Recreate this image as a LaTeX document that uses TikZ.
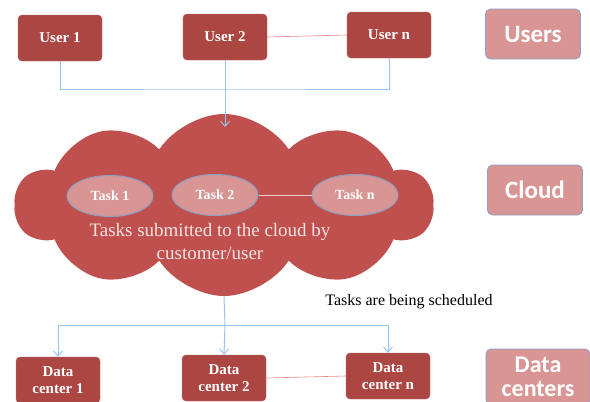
\documentclass[tikz,border=0pt]{standalone}
\usepackage{fontspec}
\setmainfont{Liberation Serif}
\newfontfamily\labelfont{Carlito}
\usetikzlibrary{arrows,arrows.meta,shapes,positioning}
\definecolor{boxred}{RGB}{172, 70, 67}
\definecolor{cloudred}{RGB}{192, 80, 77}
\definecolor{pinkfill}{RGB}{217, 149, 148}
\definecolor{slate}{RGB}{140, 160, 195}
\definecolor{wire}{RGB}{150, 195, 240}
\definecolor{softpink}{RGB}{245, 228, 227}
\definecolor{peer}{RGB}{225, 135, 132}

\tikzset{
  unit/.style={draw=boxred!85!white, fill=boxred, rounded corners=4pt,
    minimum width=84pt, minimum height=46pt, text=white, align=center,
    font=\bfseries\fontsize{15}{17}\selectfont},
  tag/.style={draw=slate, fill=pinkfill, rounded corners=5pt, line width=0.8pt,
    minimum width=95pt, minimum height=50pt, text=white, align=center,
    font=\labelfont\bfseries\fontsize{25}{27}\selectfont},
  task/.style={ellipse, draw=slate, fill=pinkfill, line width=1pt,
    minimum width=86pt, minimum height=41pt, text=white,
    font=\bfseries\fontsize{14}{15}\selectfont},
  wire/.style={draw=wire, line width=1pt},
  feed/.style={wire, -{Straight Barb[length=5pt,width=9pt]}},
  peer/.style={draw=peer, line width=0.6pt}
}

\begin{document}
\begin{tikzpicture}[x=1pt, y=-1pt]
    \useasboundingbox (0,0) rectangle (590,402);

    % Users
    \node[unit] (u1) at (60,38) {User 1};
    \node[unit] (u2) at (225,37) {User 2};
    \node[unit] (un) at (389,35) {User n};
    \node[tag] (users) at (533,34) {Users};
    \draw[peer] (u2.east) -- (un.west);

    % Cloud with the tasks
    \node[cloud, cloud puffs=10, cloud puff arc=115, fill=cloudred,
          minimum width=418pt, minimum height=182pt] (cl) at (224,205) {};
    \node[task] (t1) at (110,196) {Task 1};
    \node[task] (t2) at (215,195) {Task 2};
    \node[task] (tn) at (355,195) {Task n};
    \draw[draw=softpink!85!cloudred, line width=0.6pt] (t2.east) -- (tn.west);
    \node[text=softpink, align=center, font=\fontsize{19}{23}\selectfont]
          (note) at (210,241) {Tasks submitted to the cloud by\\customer/user};
    \node[tag] (cloudtag) at (535,190) {Cloud};

    % Data centers
    \node[unit] (d1) at (58,380) {Data\\center 1};
    \node[unit] (d2) at (224,378) {Data\\center 2};
    \node[unit] (dn) at (388,376) {Data\\center n};
    \node[tag, minimum width=104pt, minimum height=56pt,
          font=\labelfont\bfseries\fontsize{24}{24}\selectfont] (dctag) at (538,377) {Data\\centers};
    \draw[peer] (d2.east) -- (dn.west);
    \node[font=\fontsize{16}{18}\selectfont] (sched) at (409,302) {Tasks are being scheduled};

    % Connectors
    \coordinate (tj) at (225,89);
    \coordinate (ctop) at (225,127);
    \coordinate (bj) at (225,325);
    \draw[wire] (u1.south) |- (tj) -| (un.south);
    \draw[feed] (u2.south) -- (ctop);
    \draw[wire] (cl.south) -- (bj);
    \draw[feed] (bj) -| (d1.north);
    \draw[feed] (bj) -- (d2.north);
    \draw[feed] (bj) -| (dn.north);
\end{tikzpicture}
\end{document}
